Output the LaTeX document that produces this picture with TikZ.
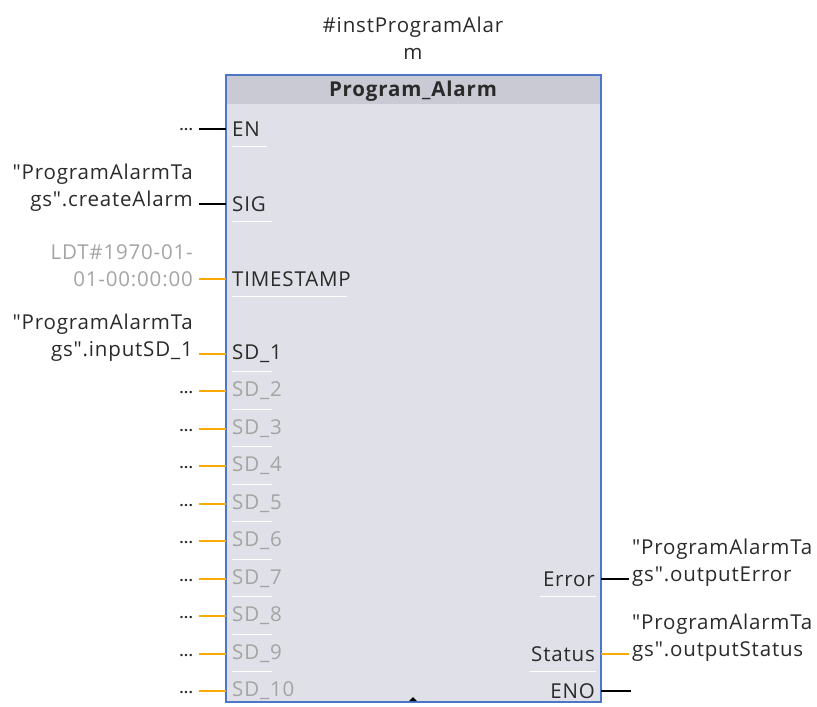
\documentclass[tikz,border=0pt]{standalone}
\usepackage{fontspec}
\defaultfontfeatures{}
\newfontfamily\blockfont[LetterSpace=4]{Open Sans}
\newcommand{\dq}{\char34\relax}
\begin{document}
\begin{tikzpicture}[x=1pt,y=-1pt,
  every node/.style={font=\blockfont\fontsize{20.5}{27}\selectfont, inner sep=0pt},
  blockframe/.style={draw=blockblue, line width=1.6pt, fill=blockbody},
  pinin/.style={anchor=west, inner xsep=6pt, text=pintext},
  pinoff/.style={pinin, text=pingray},
  pinout/.style={anchor=east, inner xsep=6pt, text=pintext},
  actual/.style={anchor=east, inner xsep=6pt, align=right, text=pintext},
  actualout/.style={anchor=west, inner xsep=3pt, align=left, text=pintext},
  constval/.style={actual, text=pingray},
  dots/.style={anchor=east, inner xsep=6pt, font=\blockfont\fontsize{14}{16}\bfseries\selectfont, text=pintext},
  boolwire/.style={draw=black, line width=1.8pt},
  datawire/.style={draw=wireorange, line width=1.8pt},
  sepline/.style={draw=white, line width=0.9pt}
]
\definecolor{blockblue}{HTML}{4D77C6}
\definecolor{blockbody}{HTML}{E0E0E8}
\definecolor{blockhead}{HTML}{C9CAD4}
\definecolor{pintext}{HTML}{2A2A2A}
\definecolor{pingray}{HTML}{A4A4A4}
\definecolor{wireorange}{HTML}{FBA800}

\useasboundingbox (0,0) rectangle (817,707);

% function block body and header
\path[blockframe] (226,75) rectangle (601,702);
\fill[blockhead] (227,76) rectangle (600,104);
\draw[blockblue, line width=1.6pt] (226,75) rectangle (601,702);
\node[font=\blockfont\fontsize{20.5}{27}\bfseries\selectfont, text=pintext] (title) at (413,91) {Program\_Alarm};
\node[align=center, text=pintext] (inst) at (413,38) {\#instProgramAlar\\m};

% input pins
\node[pinin] (en)  at (226,129) {EN};
\node[pinin] (sig) at (226,204) {SIG};
\node[pinin] (ts)  at (226,279) {TIMESTAMP};
\node[pinin] (sd1) at (226,354) {SD\_1};
\foreach \i/\y in {2/391,3/429,4/466,5/504,6/541,7/579,8/616,9/654,10/691}
  \node[pinoff] (sd\i) at (226,\y) {SD\_\i};

% output pins
\node[pinout] (err) at (601,579) {Error};
\node[pinout] (sta) at (601,654) {Status};
\node[pinout] (eno) at (601,691) {ENO};

% separator lines under the pin names
\foreach \y/\l in {146/35,221/40,296/115,371/40,409/40,446/40,484/40,521/40,559/40,596/40,634/40,671/40}
  \draw[sepline] (232,\y) -- ++(\l,0);
\draw[sepline] (540,596) -- (596,596);
\draw[sepline] (530,671) -- (596,671);

% actual parameters on the left
\node[dots] (en_a) at (199,130) {...};
\node[actual, anchor=south east] (sig_a) at (199,212) {\dq ProgramAlarmTa\\gs\dq.createAlarm};
\node[constval, anchor=south east] (ts_a) at (199,287) {LDT\#1970-01-\\01-00:00:00};
\node[actual, anchor=south east] (sd1_a) at (199,362) {\dq ProgramAlarmTa\\gs\dq.inputSD\_1};
\foreach \i/\y in {2/391,3/429,4/466,5/504,6/541,7/579,8/616,9/654,10/691}
  \node[dots] (sd\i_a) at (199,\y+2) {...};

% actual parameters on the right
\node[actualout, anchor=south west] (err_a) at (629,587) {\dq ProgramAlarmTa\\gs\dq.outputError};
\node[actualout, anchor=south west] (sta_a) at (629,662) {\dq ProgramAlarmTa\\gs\dq.outputStatus};
\coordinate (eno_a) at (631,691);

% wires
\draw[boolwire] (en_a.east |- en.west) -- (en.west);
\draw[boolwire] (sig_a.east |- sig.west) -- (sig.west);
\draw[datawire] (ts_a.east |- ts.west) -- (ts.west);
\draw[datawire] (sd1_a.east |- sd1.west) -- (sd1.west);
\foreach \i in {2,...,10}
  \draw[datawire] (sd\i_a.east |- sd\i.west) -- (sd\i.west);
\draw[boolwire] (err.east) -- (err_a.west |- err.east);
\draw[datawire] (sta.east) -- (sta_a.west |- sta.east);
\draw[boolwire] (eno.east) -- (eno_a);

% expand marker at the bottom edge
\fill[black] (409,701) -- (417,701) -- (413,697) -- cycle;
\end{tikzpicture}
\end{document}
